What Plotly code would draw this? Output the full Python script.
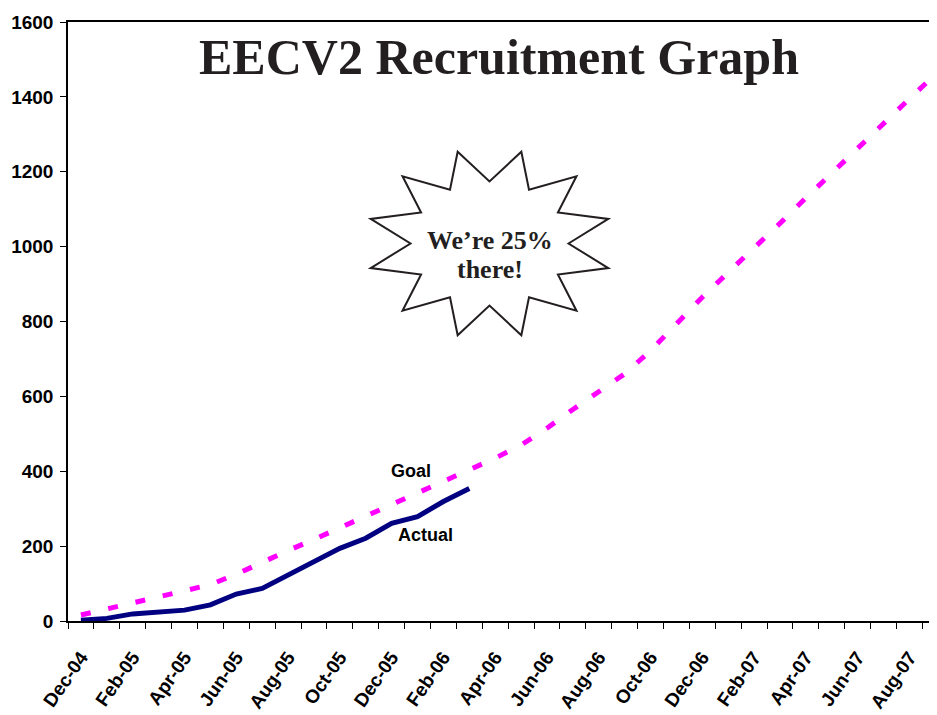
import plotly.graph_objects as go
import math

# ---------------- data ----------------
months = ["Dec-04", "Jan-05", "Feb-05", "Mar-05", "Apr-05", "May-05", "Jun-05", "Jul-05",
          "Aug-05", "Sep-05", "Oct-05", "Nov-05", "Dec-05", "Jan-06", "Feb-06", "Mar-06",
          "Apr-06", "May-06", "Jun-06", "Jul-06", "Aug-06", "Sep-06", "Oct-06", "Nov-06",
          "Dec-06", "Jan-07", "Feb-07", "Mar-07", "Apr-07", "May-07", "Jun-07", "Jul-07",
          "Aug-07", "Sep-07"]
goal = [16, 32, 47, 63, 79, 97, 125, 158, 188, 218, 249, 282, 314, 345, 376, 405,
        435, 470, 515, 565, 612, 660, 722, 795, 865, 931, 995, 1062, 1130, 1197, 1263,
        1328, 1395, 1460]
actual = [2, 7, 19, 25, 29, 43, 72, 87, 123, 158, 194, 221, 261, 279, 319, 354]
y_ticks = [0, 200, 400, 600, 800, 1000, 1200, 1400, 1600]

title_text = "EECV2 Recruitment Graph"
star_lines = ["We\u2019re 25%", "there!"]

# ---------------- figure ----------------
OFF = 8                      # page body margin
W, H = 937 - OFF, 715 - OFF
ML, MR, MT, MB = 68 - OFF, 0, 22 - OFF, 94
PW, PH = W - ML - MR, H - MT - MB


def to_paper(X, Y):
    return (X - OFF - ML) / PW, (OFF + H - MB - Y) / PH


x_idx = list(range(len(months)))
fig = go.Figure()
fig.add_trace(go.Scatter(x=x_idx, y=goal, mode="lines", name="Goal",
                         line=dict(color="#FF00FF", width=5, dash="10px,18px")))
fig.add_trace(go.Scatter(x=list(range(len(actual))), y=actual, mode="lines", name="Actual",
                         line=dict(color="#000080", width=5)))

sans = "Liberation Sans, Arial, sans-serif"
serif = "Liberation Serif, Times New Roman, serif"

fig.update_layout(
    width=W, height=H,
    margin=dict(l=ML, r=MR, t=MT, b=MB),
    paper_bgcolor="white", plot_bgcolor="white",
    showlegend=False,
)
fig.update_xaxes(
    range=[-0.5, -0.5 + PW / 25.89],
    tickvals=x_idx[::2], ticktext=months[::2], tickangle=-55,
    ticks="", showgrid=False, zeroline=False, ticklabelstandoff=16,
    showline=True, linecolor="black", linewidth=1.5, mirror=True,
    tickfont=dict(family=sans, size=19, color="black", weight="bold"),
    minor=dict(ticks="outside", tick0=-0.5, dtick=1, ticklen=6, tickwidth=1.2,
               tickcolor="black", showgrid=False),
    automargin=False,
)
fig.update_yaxes(
    range=[0, 1600], tickvals=y_ticks,
    ticks="outside", ticklen=6, tickwidth=1.2, tickcolor="black",
    showgrid=False, zeroline=False, ticklabelstandoff=3,
    showline=True, linecolor="black", linewidth=1.5,
    tickfont=dict(family=sans, size=19, color="black", weight="bold"),
    automargin=False,
)

# title
tx, ty = to_paper(499, 57)
fig.add_annotation(text=title_text, xref="paper", yref="paper",
                   x=tx, y=ty, showarrow=False,
                   xanchor="center", yanchor="middle",
                   font=dict(family=serif, size=50, color="#231f20", weight="bold"))

# series labels
fig.add_annotation(text="Goal", x=12.75, y=400, showarrow=False,
                   font=dict(family=sans, size=18, color="black", weight="bold"))
fig.add_annotation(text="Actual", x=13.31, y=230, showarrow=False,
                   font=dict(family=sans, size=18, color="black", weight="bold"))

# starburst callout (12 points on an ellipse)
cx, cy = 489.5, 243.5
ro_x, ro_y, ri_x, ri_y = 123, 95, 79, 62
pts = []
for k in range(24):
    ang = math.radians(15 * k)
    if k % 2 == 1:
        px, py = cx + ro_x * math.cos(ang), cy - ro_y * math.sin(ang)
    else:
        px, py = cx + ri_x * math.cos(ang), cy - ri_y * math.sin(ang)
    pts.append(to_paper(px, py))
path = "M " + " L ".join(f"{a:.5f},{b:.5f}" for a, b in pts) + " Z"
fig.add_shape(type="path", path=path, xref="paper", yref="paper",
              line=dict(color="#231f20", width=2), fillcolor="white")

for txt, yy in zip(star_lines, [240, 269]):
    sx, sy = to_paper(490, yy)
    fig.add_annotation(text=txt, xref="paper", yref="paper",
                       x=sx, y=sy, showarrow=False,
                       xanchor="center", yanchor="middle",
                       font=dict(family=serif, size=26, color="#231f20", weight="bold"))

fig.write_html("out.html")
